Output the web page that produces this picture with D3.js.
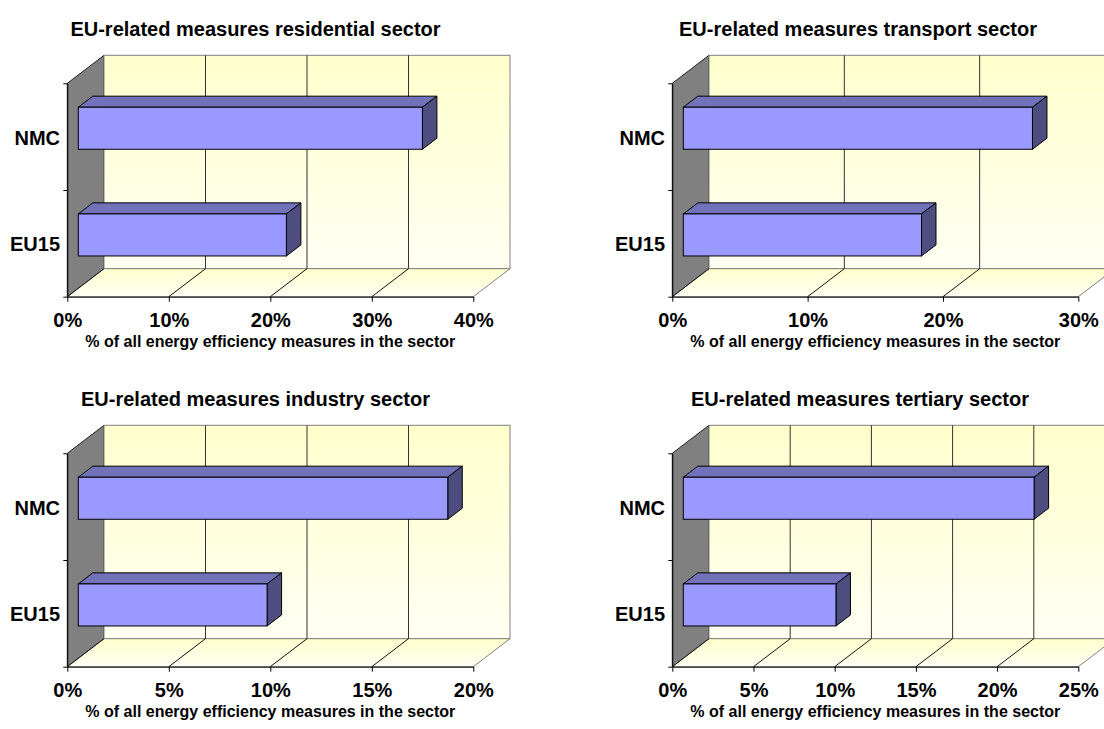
<!DOCTYPE html>
<html>
<head>
<meta charset="utf-8">
<script src="https://cdn.jsdelivr.net/npm/d3@7"></script>
<style>
  body { margin: 0; background: #fff; }
  svg { display: block; }
  text { font-family: "Liberation Sans", Arial, sans-serif; font-weight: bold; fill: #000; }
</style>
</head>
<body>
<svg id="chart" width="1104" height="729"></svg>
<script>
// Share of EU-related measures among all energy efficiency measures, by sector (%)
const categories = ["NMC", "EU15"];
const sectorTitles = [
  "EU-related measures residential sector",
  "EU-related measures transport sector",
  "EU-related measures industry sector",
  "EU-related measures tertiary sector"
];
const nmcShare  = [33.9, 25.8, 18.2, 21.6];
const eu15Share = [20.5, 17.6, 9.3, 9.4];
const residentialTicks = [0, 10, 20, 30, 40];
const transportTicks   = [0, 10, 20, 30];
const industryTicks    = [0, 5, 10, 15, 20];
const tertiaryTicks    = [0, 5, 10, 15, 20, 25];
const sectorTicks = [residentialTicks, transportTicks, industryTicks, tertiaryTicks];
const xAxisTitle = "% of all energy efficiency measures in the sector";

// Panel geometry: front plane origin and size, plus 3-D depth offset
const W = 406, H = 213.4, DX = 36.7, DY = 28;
const barFront = 0.3, barBack = 0.695;
const panels = [
  { fx: 67.3,  fy: 83.3,  tx: 255.5, ty: 35.7 },
  { fx: 672.3, fy: 83.3,  tx: 858,   ty: 35.7 },
  { fx: 67.3,  fy: 453.3, tx: 255.5, ty: 405.7 },
  { fx: 672.3, fy: 453.3, tx: 860,   ty: 405.7 }
];

const svg = d3.select("#chart");
const defs = svg.append("defs");

const wallGrad = defs.append("linearGradient").attr("id", "wallGrad")
  .attr("x1", 0).attr("y1", 0).attr("x2", 0).attr("y2", 1);
wallGrad.append("stop").attr("offset", "0%").attr("stop-color", "#FFFFCC");
wallGrad.append("stop").attr("offset", "100%").attr("stop-color", "#FFFFF2");

const floorGrad = defs.append("linearGradient").attr("id", "floorGrad")
  .attr("x1", 0).attr("y1", 0).attr("x2", 0).attr("y2", 1);
floorGrad.append("stop").attr("offset", "0%").attr("stop-color", "#FFFFCC");
floorGrad.append("stop").attr("offset", "100%").attr("stop-color", "#FFFFF4");

const line = d3.line();

panels.forEach((p, k) => {
  const ticks = sectorTicks[k];
  const maxV = ticks[ticks.length - 1];
  const g = svg.append("g");

  const x = d3.scaleLinear().domain([0, maxV]).range([p.fx, p.fx + W]);
  const y = d3.scaleBand().domain(categories).range([p.fy, p.fy + H])
    .paddingInner(0.606).paddingOuter(0.303);

  const bottom = p.fy + H;

  // side wall
  g.append("path")
    .attr("d", line([[p.fx, p.fy], [p.fx + DX, p.fy - DY], [p.fx + DX, bottom - DY], [p.fx, bottom]]) + "Z")
    .attr("fill", "#808080").attr("stroke", "#222").attr("stroke-width", 1);

  // back wall
  g.append("rect")
    .attr("x", p.fx + DX).attr("y", p.fy - DY).attr("width", W).attr("height", H)
    .attr("fill", "url(#wallGrad)").attr("stroke", "#808080").attr("stroke-width", 1);

  // floor
  g.append("path")
    .attr("d", line([[p.fx, bottom], [p.fx + W, bottom], [p.fx + W + DX, bottom - DY], [p.fx + DX, bottom - DY]]) + "Z")
    .attr("fill", "url(#floorGrad)").attr("stroke", "#808080").attr("stroke-width", 1);

  // gridlines on the back wall
  g.selectAll("line.wallGrid").data(ticks.slice(1, -1)).join("line")
    .attr("class", "wallGrid")
    .attr("x1", d => x(d) + DX).attr("x2", d => x(d) + DX)
    .attr("y1", p.fy - DY).attr("y2", bottom - DY)
    .attr("stroke", "#333").attr("stroke-width", 1);

  // gridlines across the floor
  g.selectAll("line.floorGrid").data(ticks.slice(0, -1)).join("line")
    .attr("class", "floorGrid")
    .attr("x1", d => x(d)).attr("y1", bottom)
    .attr("x2", d => x(d) + DX).attr("y2", bottom - DY)
    .attr("stroke", "#111").attr("stroke-width", 1);

  // 3-D bars
  const rows = categories.map((c, i) => ({ c, v: i === 0 ? nmcShare[k] : eu15Share[k] }));
  const f0x = barFront * DX, f0y = barFront * DY, f1x = barBack * DX, f1y = barBack * DY;
  const bars = g.selectAll("g.bar").data(rows).join("g").attr("class", "bar");

  bars.append("path") // top face
    .attr("d", d => {
      const x0 = x(0), x1 = x(d.v), yt = y(d.c);
      return line([[x0 + f0x, yt - f0y], [x0 + f1x, yt - f1y], [x1 + f1x, yt - f1y], [x1 + f0x, yt - f0y]]) + "Z";
    })
    .attr("fill", "#7272BA").attr("stroke", "#000").attr("stroke-width", 1).attr("stroke-linejoin", "round");

  bars.append("path") // right face
    .attr("d", d => {
      const x1 = x(d.v), yt = y(d.c), yb = y(d.c) + y.bandwidth();
      return line([[x1 + f0x, yt - f0y], [x1 + f1x, yt - f1y], [x1 + f1x, yb - f1y], [x1 + f0x, yb - f0y]]) + "Z";
    })
    .attr("fill", "#4D4D80").attr("stroke", "#000").attr("stroke-width", 1).attr("stroke-linejoin", "round");

  bars.append("rect") // front face
    .attr("x", x(0) + f0x).attr("y", d => y(d.c) - f0y)
    .attr("width", d => x(d.v) - x(0)).attr("height", y.bandwidth())
    .attr("fill", "#9999FF").attr("stroke", "#000").attr("stroke-width", 1);

  // x axis along the front edge of the floor
  const xAxis = d3.axisBottom(x).tickValues(ticks).tickFormat(d => d + "%")
    .tickSize(5).tickSizeOuter(0);
  const gx = g.append("g").attr("transform", `translate(0,${bottom})`).call(xAxis);
  gx.select(".domain").attr("stroke", "#000");
  gx.selectAll(".tick line").attr("stroke", "#000");
  gx.selectAll(".tick text")
    .attr("y", 30).attr("dy", null)
    .style("font-size", "20px")
    .style("font-family", "\"Liberation Sans\", Arial, sans-serif").style("font-weight", "bold")
    .attr("fill", "#000");
  gx.attr("font-size", null).attr("font-family", null);

  // y axis with ticks at the category boundaries
  const yEdge = d3.scaleLinear().domain([0, categories.length]).range([bottom, p.fy]);
  const yAxis = d3.axisLeft(yEdge).tickValues(d3.range(categories.length + 1))
    .tickFormat(() => "").tickSize(4).tickSizeOuter(0);
  const gy = g.append("g").attr("transform", `translate(${p.fx},0)`).call(yAxis);
  gy.select(".domain").attr("stroke", "#000");
  gy.selectAll(".tick line").attr("stroke", "#000");

  // category labels
  g.selectAll("text.cat").data(categories).join("text")
    .attr("class", "cat")
    .attr("x", p.fx - 7.3)
    .attr("y", d => y(d) + y.bandwidth() / 2 + 8)
    .attr("text-anchor", "end")
    .style("font-size", "20px")
    .text(d => d);

  // titles
  g.append("text")
    .attr("x", p.tx).attr("y", p.ty).attr("text-anchor", "middle")
    .style("font-size", "20px")
    .text(sectorTitles[k]);

  g.append("text")
    .attr("x", p.fx + W / 2).attr("y", bottom + 50).attr("text-anchor", "middle")
    .style("font-size", "16px")
    .text(xAxisTitle);
});
</script>
</body>
</html>
